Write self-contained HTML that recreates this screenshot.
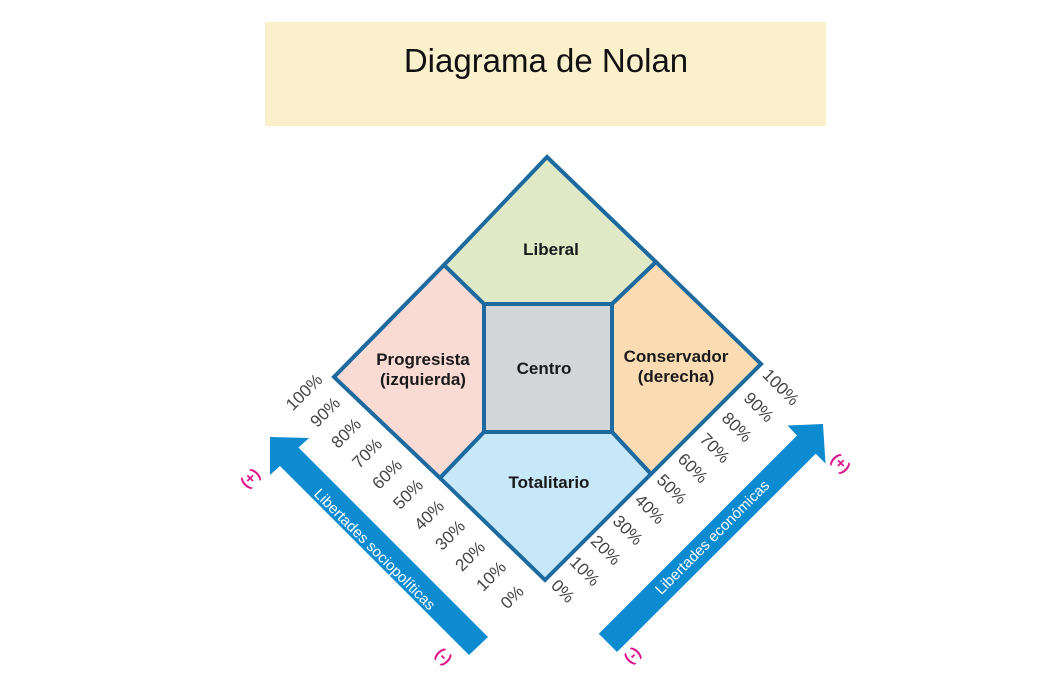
<!DOCTYPE html>
<html><head><meta charset="utf-8"><style>
html,body{margin:0;padding:0;background:#fff;}
svg{display:block;}
</style></head><body>
<svg width="1062" height="698" viewBox="0 0 1062 698" xmlns="http://www.w3.org/2000/svg" font-family="Liberation Sans, sans-serif">
<rect x="0" y="0" width="1062" height="698" fill="#fff"/>
<rect x="265" y="22" width="561" height="104" fill="#fbf0cc"/>
<text x="546" y="72" font-size="33" text-anchor="middle" fill="#111">Diagrama de Nolan</text>

<g stroke="#1d6aa0" stroke-width="4" stroke-linejoin="miter">
<polygon points="547,157 656,262 612,304 484,304 444,265" fill="#dfe9c6"/>
<polygon points="444,265 484,304 484,432 440,478 334,377" fill="#f9dbd4"/>
<polygon points="656,262 761,364 651,474 612,432 612,304" fill="#fbdcb2"/>
<polygon points="484,432 612,432 651,474 545,580 440,478" fill="#c7e8f9"/>
<rect x="484" y="304" width="128" height="128" fill="#d3d5d6"/>
</g>
<g font-size="17" font-weight="bold" fill="#1a1a1a" text-anchor="middle">
<text x="551" y="255">Liberal</text>
<text x="544" y="374">Centro</text>
<text x="423" y="365">Progresista</text>
<text x="423" y="385">(izquierda)</text>
<text x="676" y="362">Conservador</text>
<text x="676" y="382">(derecha)</text>
<text x="549" y="488">Totalitario</text>
</g>

<polygon points="270,437 309,438 298.5,447.5 488,637 469,655 280,466 270,475" fill="#0c8bd0"/>
<polygon points="823,424 825.5,463.5 815.75,453.75 617,652 598.75,633.75 797,435.5 787.5,425.5" fill="#0c8bd0"/>
<text transform="translate(374,550) rotate(45)" font-size="15" fill="#fff" text-anchor="middle" dominant-baseline="middle">Libertades sociopolíticas</text>
<text transform="translate(713,538) rotate(-45)" font-size="15" fill="#fff" text-anchor="middle" dominant-baseline="middle">Libertades económicas</text>

<g font-size="16" fill="#e0158a" font-weight="bold" text-anchor="middle" dominant-baseline="middle">
<text transform="translate(251,479) rotate(-45)">(+)</text>
<text transform="translate(840,464) rotate(45)">(+)</text>
<text transform="translate(443,657) rotate(45)">(-)</text>
<text transform="translate(633,656) rotate(-45)">(-)</text>
</g>

<g font-size="17" fill="#444" text-anchor="middle" dominant-baseline="middle">
<text transform="translate(305,393) rotate(-45)">100%</text>
<text transform="translate(326,413) rotate(-45)">90%</text>
<text transform="translate(347,434) rotate(-45)">80%</text>
<text transform="translate(368,454) rotate(-45)">70%</text>
<text transform="translate(388,475) rotate(-45)">60%</text>
<text transform="translate(409,495) rotate(-45)">50%</text>
<text transform="translate(430,516) rotate(-45)">40%</text>
<text transform="translate(451,536) rotate(-45)">30%</text>
<text transform="translate(471,557) rotate(-45)">20%</text>
<text transform="translate(492,577) rotate(-45)">10%</text>
<text transform="translate(513,598) rotate(-45)">0%</text>

<text transform="translate(562,592) rotate(45)">0%</text>
<text transform="translate(584,572) rotate(45)">10%</text>
<text transform="translate(605,551) rotate(45)">20%</text>
<text transform="translate(627,531) rotate(45)">30%</text>
<text transform="translate(649,510) rotate(45)">40%</text>
<text transform="translate(671,490) rotate(45)">50%</text>
<text transform="translate(692,469) rotate(45)">60%</text>
<text transform="translate(714,449) rotate(45)">70%</text>
<text transform="translate(736,428) rotate(45)">80%</text>
<text transform="translate(758,408) rotate(45)">90%</text>
<text transform="translate(780,388) rotate(45)">100%</text>
</g>
</svg>
</body></html>
